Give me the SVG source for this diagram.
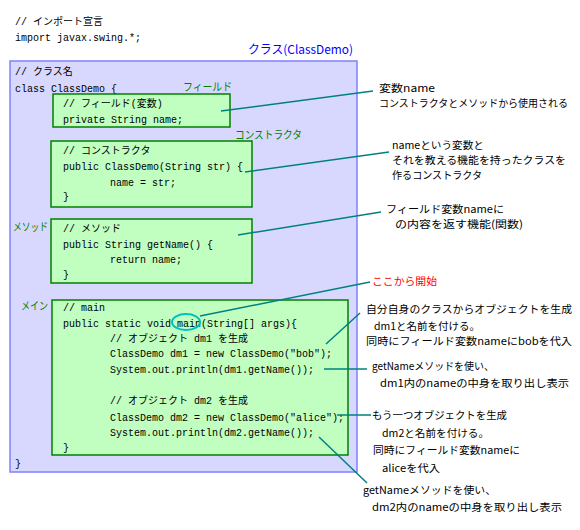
<svg xmlns="http://www.w3.org/2000/svg" width="580" height="530" viewBox="0 0 580 530">
<style>
.code{font-family:"Liberation Mono","Noto Sans CJK JP",monospace;font-size:10px;fill:#000}
.note{font-family:"Noto Sans CJK JP","Noto Sans",sans-serif;font-size:10.5px;fill:#000}
.lbl{font-family:"Noto Sans CJK JP","Noto Sans",sans-serif;font-size:11px;fill:#008000}
.box{fill:#c0ffc0;stroke:#008000;stroke-width:1.5}
.con{stroke:#008080;stroke-width:1.5;fill:none}
</style>
<rect width="580" height="530" fill="#fff"/>
<g id="imports">
<text class="code" x="15" y="25">// インポート宣言</text>
<text class="code" x="15" y="41">import javax.swing.*;</text>
</g>
<g id="class">
<rect x="10" y="61" width="347" height="411" fill="#d8d8ff" stroke="#8080ff" stroke-width="1.5"/>
<text x="248" y="54" font-family="Noto Sans CJK JP,sans-serif" font-size="12" fill="#0000ff" textLength="105" lengthAdjust="spacingAndGlyphs">クラス(ClassDemo)</text>
<text class="code" x="15" y="75">// クラス名</text>
<text class="code" x="15" y="92">class ClassDemo {</text>
<text class="code" x="15" y="467">}</text>
</g>
<g id="field">
<rect class="box" x="53" y="94" width="177" height="33"/>
<text class="lbl" x="183" y="91" textLength="49" lengthAdjust="spacingAndGlyphs">フィールド</text>
<text class="code" x="63" y="107">// フィールド(変数)</text>
<text class="code" x="63" y="123">private String name;</text>
</g>
<g id="constructor">
<rect class="box" x="51" y="141" width="201" height="66"/>
<text class="lbl" x="235" y="139" textLength="67" lengthAdjust="spacingAndGlyphs">コンストラクタ</text>
<text class="code" x="63" y="154">// コンストラクタ</text>
<text class="code" x="63" y="170">public ClassDemo(String str) {</text>
<text class="code" x="110" y="186">name = str;</text>
<text class="code" x="63" y="200">}</text>
</g>
<g id="method">
<rect class="box" x="51" y="219" width="201" height="64"/>
<text class="lbl" x="13" y="231" textLength="35" lengthAdjust="spacingAndGlyphs">メソッド</text>
<text class="code" x="63" y="232">// メソッド</text>
<text class="code" x="63" y="248">public String getName() {</text>
<text class="code" x="110" y="263">return name;</text>
<text class="code" x="63" y="278">}</text>
</g>
<g id="main">
<rect class="box" x="52" y="300" width="296" height="155"/>
<text class="lbl" x="21" y="310" textLength="27" lengthAdjust="spacingAndGlyphs">メイン</text>
<text class="code" x="63" y="311">// main</text>
<text class="code" x="63" y="327">public static void main(String[] args){</text>
<text class="code" x="110" y="342">// オブジェクト dm1 を生成</text>
<text class="code" x="110" y="357">ClassDemo dm1 = new ClassDemo("bob");</text>
<text class="code" x="110" y="373">System.out.println(dm1.getName());</text>
<text class="code" x="110" y="404">// オブジェクト dm2 を生成</text>
<text class="code" x="110" y="421">ClassDemo dm2 = new ClassDemo("alice");</text>
<text class="code" x="110" y="436">System.out.println(dm2.getName());</text>
<text class="code" x="63" y="451">}</text>
<ellipse cx="186" cy="322" rx="14" ry="8" fill="none" stroke="#00c0c0" stroke-width="2"/>
</g>
<g id="connectors">
<line class="con" x1="221" y1="111" x2="373" y2="91"/>
<line class="con" x1="245" y1="172" x2="389" y2="152"/>
<line class="con" x1="238" y1="235" x2="381" y2="212"/>
<line class="con" x1="200" y1="316" x2="370" y2="282"/>
<line class="con" x1="326" y1="344" x2="360" y2="313"/>
<line class="con" x1="324" y1="369" x2="367" y2="369"/>
<line class="con" x1="337" y1="415" x2="371" y2="415"/>
<line class="con" x1="319" y1="437" x2="367" y2="483"/>
</g>
<g id="notes">
<text class="note" x="379" y="92" textLength="56" lengthAdjust="spacingAndGlyphs">変数name</text>
<text class="note" x="379" y="107" textLength="189" lengthAdjust="spacingAndGlyphs" style="font-size:10px">コンストラクタとメソッドから使用される</text>
<text class="note" x="392" y="149" textLength="92" lengthAdjust="spacingAndGlyphs">nameという変数と</text>
<text class="note" x="392" y="164" textLength="174" lengthAdjust="spacingAndGlyphs">それを教える機能を持ったクラスを</text>
<text class="note" x="392" y="179" textLength="90" lengthAdjust="spacingAndGlyphs">作るコンストラクタ</text>
<text class="note" x="386" y="213" textLength="118" lengthAdjust="spacingAndGlyphs">フィールド変数nameに</text>
<text class="note" x="395" y="228" textLength="128" lengthAdjust="spacingAndGlyphs">の内容を返す機能(関数)</text>
<text class="note" x="372" y="285" textLength="65" lengthAdjust="spacingAndGlyphs" style="fill:#ff0000">ここから開始</text>
<text class="note" x="366" y="313" textLength="206" lengthAdjust="spacingAndGlyphs">自分自身のクラスからオブジェクトを生成</text>
<text class="note" x="374" y="330" textLength="106" lengthAdjust="spacingAndGlyphs">dm1と名前を付ける。</text>
<text class="note" x="366" y="345" textLength="206" lengthAdjust="spacingAndGlyphs">同時にフィールド変数nameにbobを代入</text>
<text class="note" x="372" y="370" textLength="122" lengthAdjust="spacingAndGlyphs">getNameメソッドを使い、</text>
<text class="note" x="380" y="387" textLength="189" lengthAdjust="spacingAndGlyphs">dm1内のnameの中身を取り出し表示</text>
<text class="note" x="372" y="419" textLength="135" lengthAdjust="spacingAndGlyphs">もう一つオブジェクトを生成</text>
<text class="note" x="382" y="437" textLength="107" lengthAdjust="spacingAndGlyphs">dm2と名前を付ける。</text>
<text class="note" x="373" y="454" textLength="147" lengthAdjust="spacingAndGlyphs">同時にフィールド変数nameに</text>
<text class="note" x="382" y="472" textLength="58" lengthAdjust="spacingAndGlyphs">aliceを代入</text>
<text class="note" x="363" y="494" textLength="133" lengthAdjust="spacingAndGlyphs">getNameメソッドを使い、</text>
<text class="note" x="372" y="511" textLength="190" lengthAdjust="spacingAndGlyphs">dm2内のnameの中身を取り出し表示</text>
</g>
</svg>
